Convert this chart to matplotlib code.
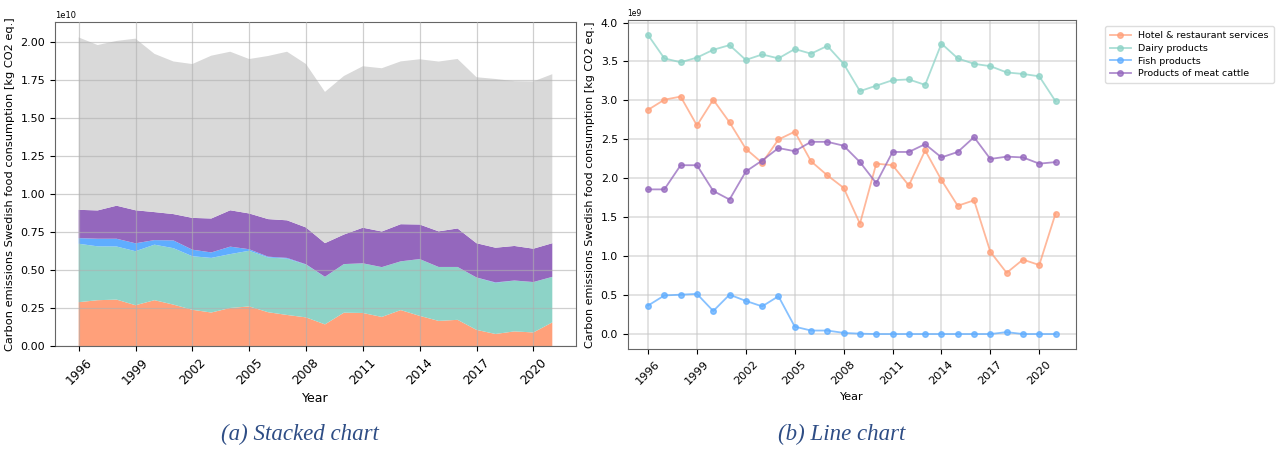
import numpy as np
import matplotlib
matplotlib.use("Agg")
import matplotlib.pyplot as plt

# ------------------------------------------------------------
# Data (kg CO2 eq.)
# ------------------------------------------------------------

years = list(range(1996, 2022))

hotel = [2.88, 3.01, 3.05, 2.68, 3.01, 2.72, 2.38, 2.20, 2.50, 2.60,
         2.22, 2.04, 1.88, 1.42, 2.19, 2.17, 1.91, 2.36, 1.98, 1.65,
         1.72, 1.06, 0.79, 0.96, 0.89, 1.55]
dairy = [3.84, 3.54, 3.49, 3.55, 3.65, 3.71, 3.52, 3.59, 3.54, 3.66,
         3.60, 3.70, 3.47, 3.12, 3.19, 3.26, 3.27, 3.20, 3.73, 3.54,
         3.47, 3.44, 3.36, 3.34, 3.31, 2.99]
fish = [0.37, 0.50, 0.51, 0.52, 0.30, 0.51, 0.43, 0.36, 0.49, 0.10,
        0.05, 0.05, 0.02, 0.01, 0.005, 0.005, 0.005, 0.005, 0.005, 0.005,
        0.005, 0.005, 0.03, 0.005, 0.005, 0.005]
meat = [1.86, 1.86, 2.17, 2.17, 1.84, 1.73, 2.09, 2.23, 2.39, 2.35,
        2.47, 2.47, 2.42, 2.21, 1.94, 2.34, 2.34, 2.44, 2.27, 2.34,
        2.53, 2.25, 2.28, 2.27, 2.19, 2.21]
other = [11.33, 10.87, 10.83, 11.28, 10.40, 10.03, 10.11, 10.70, 10.42, 10.15,
         10.72, 11.08, 10.74, 9.94, 10.42, 10.61, 10.73, 10.70, 10.86, 11.16,
         11.14, 10.91, 11.09, 10.83, 10.99, 11.11]

series_names = ["Hotel & restaurant services", "Dairy products",
                "Fish products", "Products of meat cattle"]
colors = ["#FFA07A", "#8DD3C7", "#5FADFF", "#9467BD"]
other_color = "#D9D9D9"

xticks = list(range(1996, 2021, 3))
ylabel = "Carbon emissions Swedish food consumption [kg CO2 eq.]"

scale = 1e9
series = [np.array(s) * scale for s in (hotel, dairy, fish, meat)]

# ------------------------------------------------------------
# Figure
# ------------------------------------------------------------

fig = plt.figure(figsize=(12.76, 4.49), dpi=100)

ax1 = fig.add_axes([0.0431, 0.2294, 0.4083, 0.7216])
ax2 = fig.add_axes([0.4919, 0.2227, 0.3513, 0.7327])

# (a) stacked chart
ax1.stackplot(years, *series, np.array(other) * scale,
              colors=colors + [other_color])
ax1.set_xticks(xticks)
ax1.tick_params(axis="x", labelrotation=45, labelsize=8.8)
ax1.tick_params(axis="y", labelsize=8)
ax1.yaxis.get_offset_text().set_fontsize(6)
ax1.set_xlabel("Year", fontsize=9)
ax1.set_ylabel(ylabel, fontsize=8.2)
ax1.grid(True, color="#b0b0b0", alpha=0.6, lw=0.9)
ax1.set_axisbelow(False)

# (b) line chart
for s, name, c in zip(series, series_names, colors):
    ax2.plot(years, s, "-o", color=c, alpha=0.75, lw=1.3, ms=4, label=name)
ax2.set_xticks(xticks)
ax2.tick_params(axis="x", labelrotation=45, labelsize=8.2)
ax2.tick_params(axis="y", labelsize=7.8)
ax2.yaxis.get_offset_text().set_fontsize(5.5)
ax2.set_xlabel("Year", fontsize=8)
ax2.set_ylabel(ylabel, fontsize=8)
ax2.grid(True, color="#c8c8c8", alpha=0.6, lw=1.2)
ax2.legend(loc="upper left", bbox_to_anchor=(1.055, 0.995), fontsize=6.8,
           framealpha=1, edgecolor="#dddddd", borderpad=0.5,
           labelspacing=0.4, handlelength=2.2)

for ax in (ax1, ax2):
    for sp in ax.spines.values():
        sp.set_color("#666666")

# captions
cap = dict(family="Liberation Serif", style="italic", fontsize=16.5,
           color="#2E4D85", ha="center", va="center")
fig.text(300 / 1276, 1 - 434 / 449, "(a) Stacked chart", **cap)
fig.text(842 / 1276, 1 - 434 / 449, "(b) Line chart", **cap)

fig.savefig("out.png", dpi=100)
